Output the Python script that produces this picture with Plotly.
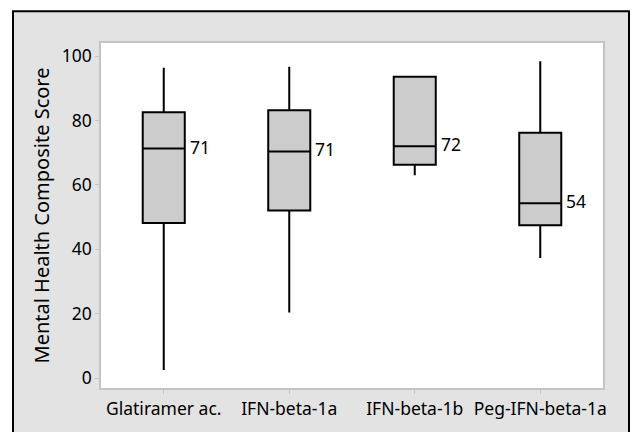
import plotly.graph_objects as go

categories = ["Glatiramer ac.", "IFN-beta-1a", "IFN-beta-1b", "Peg-IFN-beta-1a"]
lower_whisker = [2.5, 20.4, 63.0, 37.3]
q1 = [48.2, 52.1, 66.3, 47.5]
median = [71.3, 70.4, 72.0, 54.3]
q3 = [82.6, 83.2, 93.6, 76.2]
upper_whisker = [96.4, 96.7, 93.9, 98.4]
median_labels = ["71", "71", "72", "54"]
y_title = "Mental Health Composite Score"
y_ticks = [0, 20, 40, 60, 80, 100]

W, H = 634, 432
L, R, T, B = 101, 31, 43, 40
pw, ph = W - L - R, H - T - B
FONT = "Noto Sans"

def px(x):
    return (x - L) / pw

def py(y):
    return (H - B - y) / ph

box_w = 0.335

fig = go.Figure()
fig.add_trace(go.Box(
    x=categories,
    q1=q1, median=median, q3=q3,
    lowerfence=lower_whisker, upperfence=upper_whisker,
    width=box_w,
    whiskerwidth=0,
    fillcolor="#cccccc",
    line=dict(color="black", width=2),
    boxpoints=False,
    hoverinfo="skip",
    showlegend=False,
))

for i, (m, lab) in enumerate(zip(median, median_labels)):
    fig.add_annotation(
        x=i + box_w / 2, y=m, text=lab, showarrow=False,
        xanchor="left", yanchor="middle", xshift=3, yshift=2,
        font=dict(family=FONT, size=17.5, color="black"),
    )

# outer gray frame with black border
fig.add_shape(type="rect", xref="paper", yref="paper",
              x0=px(13), x1=px(629), y0=py(445), y1=py(11),
              fillcolor="#e3e3e3", line=dict(color="black", width=2), layer="below")
# white plotting area
fig.add_shape(type="rect", xref="paper", yref="paper",
              x0=0, x1=1, y0=0, y1=1,
              fillcolor="white", line=dict(width=0), layer="below")

fig.update_layout(
    width=W, height=H,
    margin=dict(l=L, r=R, t=T, b=B),
    paper_bgcolor="white",
    plot_bgcolor="rgba(0,0,0,0)",
    font=dict(family=FONT, size=17.5, color="black"),
)
fig.update_xaxes(
    type="category", range=[-0.5, 3.5],
    showline=True, mirror=True, linecolor="#c4c4c4", linewidth=1.5,
    ticks="outside", ticklen=4, tickcolor="#c4c4c4", tickwidth=1,
    showgrid=False, zeroline=False,
    tickfont=dict(family=FONT, size=17.5, color="black"),
)
fig.update_yaxes(
    range=[-3.07, 104.1],
    tickvals=y_ticks,
    showline=True, mirror=True, linecolor="#c4c4c4", linewidth=1.5,
    ticks="outside", ticklen=4, tickcolor="#c4c4c4", tickwidth=1,
    showgrid=False, zeroline=False,
    tickfont=dict(family=FONT, size=17.5, color="black"),
    title=dict(text=y_title, font=dict(family=FONT, size=20, color="black"), standoff=7),
)

fig.write_html("out.html")
